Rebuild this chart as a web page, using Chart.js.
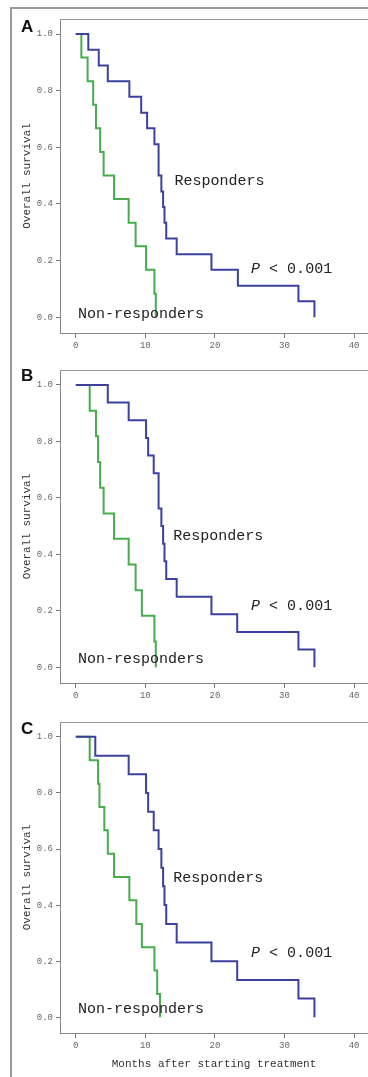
<!DOCTYPE html>
<html>
<head>
<meta charset="utf-8">
<script src="https://cdn.jsdelivr.net/npm/chart.js@4.4.1/dist/chart.umd.min.js"></script>
<style>
  body { margin: 0; background: #fff; width: 368px; height: 1077px; overflow: hidden; position: relative; }
  .frame { position: absolute; left: 10px; top: 7px; width: 420px; height: 1100px; border-left: 2px solid #9a9a9a; border-top: 2px solid #9a9a9a; }
  .panel { position: absolute; left: 0; width: 368px; }
  .tag { position: absolute; left: 21px; font: bold 17px "Liberation Sans", Arial, sans-serif; line-height: 1; color: #111; }
</style>
</head>
<body>
<div class="frame"></div>
<div class="panel" style="top:0;height:352px"><canvas id="chartA"></canvas></div>
<div class="panel" style="top:352px;height:350px"><canvas id="chartB"></canvas></div>
<div class="panel" style="top:702px;height:375px"><canvas id="chartC"></canvas></div>
<div class="tag" style="top:18px">A</div>
<div class="tag" style="top:367px">B</div>
<div class="tag" style="top:720px">C</div>
<script>
// Kaplan-Meier steps (months, survival fraction)
const aRespTime = [0, 1.8, 3.3, 4.6, 7.7, 9.4, 10.25, 11.3, 11.9, 12.3, 12.55, 12.75, 13.0, 14.5, 19.5, 23.3, 32.0, 34.3];
const aRespSurv = [1, .944, .889, .833, .778, .722, .667, .611, .5, .444, .389, .333, .278, .222, .167, .111, .056, 0];
const aNonTime = [0, 0.8, 1.7, 2.5, 2.9, 3.5, 4.0, 5.5, 7.6, 8.6, 10.1, 11.3, 11.5];
const aNonSurv = [1, .917, .833, .75, .667, .583, .5, .417, .333, .25, .167, .083, 0];

const bRespTime = [0, 4.6, 7.6, 10.1, 10.4, 11.2, 11.9, 12.3, 12.55, 12.75, 13.0, 14.5, 19.5, 23.2, 32.0, 34.3];
const bRespSurv = [1, .9375, .875, .8125, .75, .6875, .5625, .5, .4375, .375, .3125, .25, .1875, .125, .0625, 0];
const bNonTime = [0, 2.0, 2.9, 3.2, 3.5, 4.0, 5.5, 7.6, 8.6, 9.5, 11.3, 11.5];
const bNonSurv = [1, .909, .818, .727, .636, .545, .455, .364, .273, .182, .091, 0];

const cRespTime = [0, 2.8, 7.6, 10.1, 10.4, 11.2, 11.9, 12.3, 12.55, 12.75, 13.0, 14.5, 19.5, 23.2, 32.0, 34.3];
const cRespSurv = [1, .933, .867, .8, .733, .667, .6, .533, .467, .4, .333, .267, .2, .133, .067, 0];
const cNonTime = [0, 2.0, 3.2, 3.4, 4.1, 4.6, 5.5, 7.7, 8.7, 9.5, 11.3, 11.7, 12.1];
const cNonSurv = [1, .917, .833, .75, .667, .583, .5, .417, .333, .25, .167, .083, 0];

const xTicks = [0, 10, 20, 30, 40];
const yTicks = [0, 0.2, 0.4, 0.6, 0.8, 1.0];

const MONO = '"Courier New", "Liberation Mono", monospace';
const BLUE = '#3c41a0';
const GREEN = '#46ad4a';

// draws the top frame line and the text notes inside the plot
const notesPlugin = {
    id: 'kmNotes',
    afterDatasetsDraw(chart, args, opts) {
        const ctx = chart.ctx;
        const area = chart.chartArea;
        const xs = chart.scales.x, ys = chart.scales.y;
        ctx.save();
        ctx.strokeStyle = '#999';
        ctx.lineWidth = 1;
        ctx.beginPath();
        ctx.moveTo(area.left, area.top + 0.5);
        ctx.lineTo(area.right, area.top + 0.5);
        ctx.stroke();

        ctx.fillStyle = '#222';
        ctx.textBaseline = 'middle';
        ctx.textAlign = 'left';
        for (const n of opts.notes) {
            let px = xs.getPixelForValue(n.x);
            let py = ys.getPixelForValue(n.y);
            if (n.italic) {
                ctx.font = 'italic 15px ' + MONO;
                ctx.fillText(n.italic, px, py);
                px += ctx.measureText(n.italic).width;
            }
            ctx.font = '15px ' + MONO;
            ctx.fillText(n.text, px, py);
        }
        ctx.restore();
    }
};

function toPoints(times, surv) {
    return times.map((t, i) => ({ x: t, y: surv[i] }));
}

function drawPanel(id, resp, nonResp, notes, padTop, axisHeight, showXTitle) {
    let ctx = document.getElementById(id).getContext('2d');

    new Chart(ctx, {
        type: 'line',
        data: {
            datasets: [{
                label: 'Responders',
                data: resp,
                borderColor: BLUE,
                borderWidth: 2,
                pointRadius: 0,
                stepped: 'before',
                fill: false
            }, {
                label: 'Non-responders',
                data: nonResp,
                borderColor: GREEN,
                borderWidth: 2,
                pointRadius: 0,
                stepped: 'before',
                fill: false
            }]
        },
        options: {
            responsive: true,
            maintainAspectRatio: false,
            animation: false,
            layout: { padding: { top: padTop, left: 0, right: 0, bottom: 0 } },
            plugins: {
                legend: { display: false },
                tooltip: { enabled: false },
                kmNotes: { notes: notes }
            },
            scales: {
                x: {
                    type: 'linear',
                    min: -2.27,
                    max: 42.0,
                    afterBuildTicks: s => { s.ticks = xTicks.map(v => ({ value: v })); },
                    afterFit: s => { s.height = axisHeight; },
                    grid: { drawOnChartArea: false, drawTicks: true, tickLength: 5, color: '#777' },
                    border: { color: '#888', width: 1 },
                    ticks: { font: { family: MONO, size: 9 }, color: '#666', padding: 2, maxRotation: 0, autoSkip: false },
                    title: {
                        display: showXTitle,
                        text: 'Months after starting treatment',
                        font: { family: MONO, size: 11 },
                        color: '#333',
                        padding: { top: 0, bottom: 6 }
                    }
                },
                y: {
                    type: 'linear',
                    min: -0.056,
                    max: 1.053,
                    afterBuildTicks: s => { s.ticks = yTicks.map(v => ({ value: v })); },
                    afterFit: s => { s.width = 60; },
                    grid: { drawOnChartArea: false, drawTicks: true, tickLength: 4, color: '#777' },
                    border: { color: '#888', width: 1 },
                    ticks: {
                        font: { family: MONO, size: 9 },
                        color: '#666',
                        padding: 3,
                        callback: v => v.toFixed(1)
                    },
                    title: {
                        display: true,
                        text: 'Overall survival',
                        font: { family: MONO, size: 11 },
                        color: '#333',
                        padding: { top: 20, bottom: 0 }
                    }
                }
            }
        },
        plugins: [notesPlugin]
    });
}

drawPanel('chartA', toPoints(aRespTime, aRespSurv), toPoints(aNonTime, aNonSurv), [
    { x: 14.2, y: 0.48, text: 'Responders' },
    { x: 25.2, y: 0.17, italic: 'P', text: ' < 0.001' },
    { x: 0.33, y: 0.01, text: 'Non-responders' }
], 19, 19, false);

drawPanel('chartB', toPoints(bRespTime, bRespSurv), toPoints(bNonTime, bNonSurv), [
    { x: 14.0, y: 0.466, text: 'Responders' },
    { x: 25.2, y: 0.217, italic: 'P', text: ' < 0.001' },
    { x: 0.33, y: 0.028, text: 'Non-responders' }
], 18, 19, false);

drawPanel('chartC', toPoints(cRespTime, cRespSurv), toPoints(cNonTime, cNonSurv), [
    { x: 14.0, y: 0.495, text: 'Responders' },
    { x: 25.2, y: 0.23, italic: 'P', text: ' < 0.001' },
    { x: 0.33, y: 0.031, text: 'Non-responders' }
], 20, 44, true);
</script>
</body>
</html>
